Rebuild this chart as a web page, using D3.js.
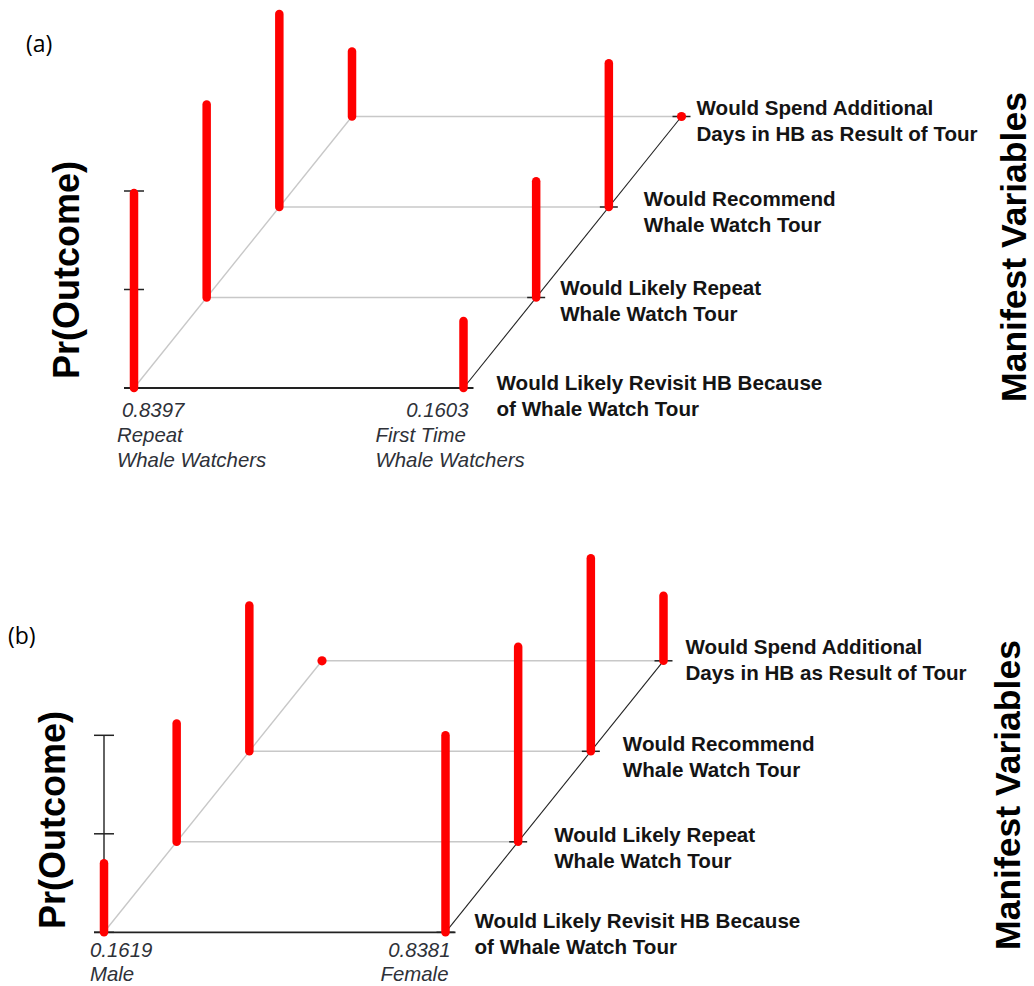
<!DOCTYPE html>
<html>
<head>
<meta charset="utf-8">
<script src="https://cdn.jsdelivr.net/npm/d3@7/dist/d3.min.js"></script>
<style>
  html, body { margin: 0; padding: 0; background: #ffffff; }
  svg { display: block; }
</style>
</head>
<body>
<svg id="chart" width="1034" height="986"></svg>
<script>
// ---------------- DATA ----------------
const rowLabels = [
  ["Would Likely Revisit HB Because", "of Whale Watch Tour"],
  ["Would Likely Repeat", "Whale Watch Tour"],
  ["Would Recommend", "Whale Watch Tour"],
  ["Would Spend Additional", "Days in HB as Result of Tour"]
];
const rowIndex = [0, 1, 2, 3];
const yTicks = [0, 0.5, 1];

// Panel (a)
const groupsA = ["Repeat Whale Watchers", "First Time Whale Watchers"];
const groupProbA = ["0.8397", "0.1603"];
const groupNameA = [["Repeat", "Whale Watchers"], ["First Time", "Whale Watchers"]];
const valuesRepeat = [0.99, 0.98, 0.98, 0.33];
const valuesFirstTime = [0.34, 0.59, 0.73, 0.0];

// Panel (b)
const groupsB = ["Male", "Female"];
const groupProbB = ["0.1619", "0.8381"];
const groupNameB = [["Male"], ["Female"]];
const valuesMale = [0.35, 0.60, 0.74, 0.0];
const valuesFemale = [1.0, 0.99, 0.98, 0.33];

// ---------------- LAYOUT ----------------
const svg = d3.select("#chart");
svg.append("rect").attr("width", 1034).attr("height", 986).attr("fill", "#ffffff");

const SANS = "'Liberation Sans', Arial, sans-serif";

function drawPanel(cfg) {
  const g = svg.append("g");
  const x = d3.scalePoint().domain(cfg.groups).range([cfg.left, cfg.right]);
  const dX = d3.scaleLinear().domain([0, 3]).range([0, 218]);
  const dY = d3.scaleLinear().domain([0, 3]).range([0, -271.5]);
  const h = d3.scaleLinear().domain([0, 1]).range([0, 197]);
  const y0 = cfg.base;
  const L = x(cfg.groups[0]), R = x(cfg.groups[1]);

  // grey row lines (back rows)
  g.selectAll(".rowline").data(rowIndex.filter(r => r > 0)).enter().append("line")
    .attr("x1", r => L + dX(r)).attr("x2", r => R + dX(r))
    .attr("y1", r => y0 + dY(r)).attr("y2", r => y0 + dY(r))
    .attr("stroke", "#c8c8c8").attr("stroke-width", 1.6);
  // left grey diagonal
  g.append("line")
    .attr("x1", L + dX(0)).attr("y1", y0 + dY(0))
    .attr("x2", L + dX(3)).attr("y2", y0 + dY(3))
    .attr("stroke", "#c8c8c8").attr("stroke-width", 1.4);
  // right black diagonal
  g.append("line")
    .attr("x1", R + dX(0)).attr("y1", y0 + dY(0))
    .attr("x2", R + dX(3)).attr("y2", y0 + dY(3))
    .attr("stroke", "#222").attr("stroke-width", 1.1);
  // front baseline
  g.append("line")
    .attr("x1", L - 10).attr("x2", R + 10)
    .attr("y1", y0).attr("y2", y0)
    .attr("stroke", "#222").attr("stroke-width", 1.8);
  // right-side row ticks
  g.selectAll(".rtick").data(rowIndex).enter().append("line")
    .attr("x1", r => R + dX(r) - 9).attr("x2", r => R + dX(r) + 9)
    .attr("y1", r => y0 + dY(r)).attr("y2", r => y0 + dY(r))
    .attr("stroke", "#222").attr("stroke-width", 1.5);
  // vertical probability axis
  g.append("line")
    .attr("x1", L).attr("x2", L)
    .attr("y1", y0 - h(1)).attr("y2", y0)
    .attr("stroke", "#222").attr("stroke-width", 1.4);
  g.selectAll(".ytick").data(yTicks).enter().append("line")
    .attr("x1", L - 10).attr("x2", L + 10)
    .attr("y1", d => y0 - h(d)).attr("y2", d => y0 - h(d))
    .attr("stroke", "#222").attr("stroke-width", 1.5);

  // bars (back to front)
  const bars = [];
  cfg.series.forEach((vals, gi) => {
    vals.forEach((v, r) => bars.push({ g: cfg.groups[gi], r, v }));
  });
  bars.sort((a, b) => b.r - a.r);
  bars.forEach(b => {
    const bx = x(b.g) + dX(b.r), by = y0 + dY(b.r);
    if (b.v > 0.005) {
      g.append("line")
        .attr("x1", bx).attr("x2", bx)
        .attr("y1", by).attr("y2", by - h(b.v))
        .attr("stroke", "#ff0000").attr("stroke-width", 8.5)
        .attr("stroke-linecap", "round");
    } else {
      g.append("circle").attr("cx", bx).attr("cy", by).attr("r", 4.6).attr("fill", "#ff0000");
    }
  });

  // row labels
  rowIndex.forEach(r => {
    const t = g.append("text")
      .attr("x", R + dX(r) + cfg.labOff[r][0])
      .attr("y", y0 + dY(r) + cfg.labOff[r][1])
      .attr("font-family", SANS).attr("font-weight", "bold")
      .attr("font-size", 20.6).attr("fill", "#141414");
    rowLabels[r].forEach((line, i) => {
      t.append("tspan").attr("x", R + dX(r) + cfg.labOff[r][0])
        .attr("dy", i === 0 ? 0 : 26).text(line);
    });
  });

  // group labels (italic)
  cfg.groups.forEach((gname, gi) => {
    const spec = cfg.groupText[gi];
    const lines = [cfg.probs[gi]].concat(cfg.names[gi]);
    lines.forEach((line, i) => {
      g.append("text")
        .attr("x", x(gname) + spec.dx[i])
        .attr("y", y0 + spec.dy[i])
        .attr("text-anchor", spec.anchor[i])
        .attr("font-family", SANS).attr("font-style", "italic")
        .attr("font-size", 20.4).attr("fill", "#2e3138")
        .text(line);
    });
  });

  // axis titles
  svg.append("text")
    .attr("transform", `translate(${cfg.prX},${cfg.prY}) rotate(-90)`)
    .attr("text-anchor", "middle")
    .attr("font-family", SANS).attr("font-weight", "bold")
    .attr("font-size", 36).attr("fill", "#000")
    .text("Pr(Outcome)");
  svg.append("text")
    .attr("transform", `translate(${cfg.mvX},${cfg.mvY}) rotate(-90)`)
    .attr("text-anchor", "middle")
    .attr("font-family", SANS).attr("font-weight", "bold")
    .attr("font-size", 35.5).attr("fill", "#000")
    .text("Manifest Variables");
  svg.append("text")
    .attr("x", cfg.tagX).attr("y", cfg.tagY)
    .attr("font-family", "'Open Sans', 'Noto Sans', sans-serif")
    .attr("font-size", 23).attr("fill", "#000")
    .text(cfg.tag);
}

drawPanel({
  groups: groupsA, probs: groupProbA, names: groupNameA,
  series: [valuesRepeat, valuesFirstTime],
  left: 134, right: 463.5, base: 388,
  labOff: [[33, 2], [24, -3], [35, -1], [15, -2]],
  groupText: [
    { dx: [-12, -17, -17], dy: [29, 54, 79], anchor: ["start", "start", "start"] },
    { dx: [5, -88, -88], dy: [29, 54, 79], anchor: ["end", "start", "start"] }
  ],
  prX: 79, prY: 270, mvX: 1026, mvY: 247,
  tag: "(a)", tagX: 26, tagY: 52
});

drawPanel({
  groups: groupsB, probs: groupProbB, names: groupNameB,
  series: [valuesMale, valuesFemale],
  left: 104, right: 445.5, base: 932.3,
  labOff: [[29, -4], [36, 0], [32, 0], [22, -7]],
  groupText: [
    { dx: [-14, -14], dy: [25, 49], anchor: ["start", "start"] },
    { dx: [5, 3], dy: [25, 49], anchor: ["end", "end"] }
  ],
  prX: 65, prY: 820, mvX: 1020, mvY: 795,
  tag: "(b)", tagX: 8, tagY: 644
});
</script>
</body>
</html>
